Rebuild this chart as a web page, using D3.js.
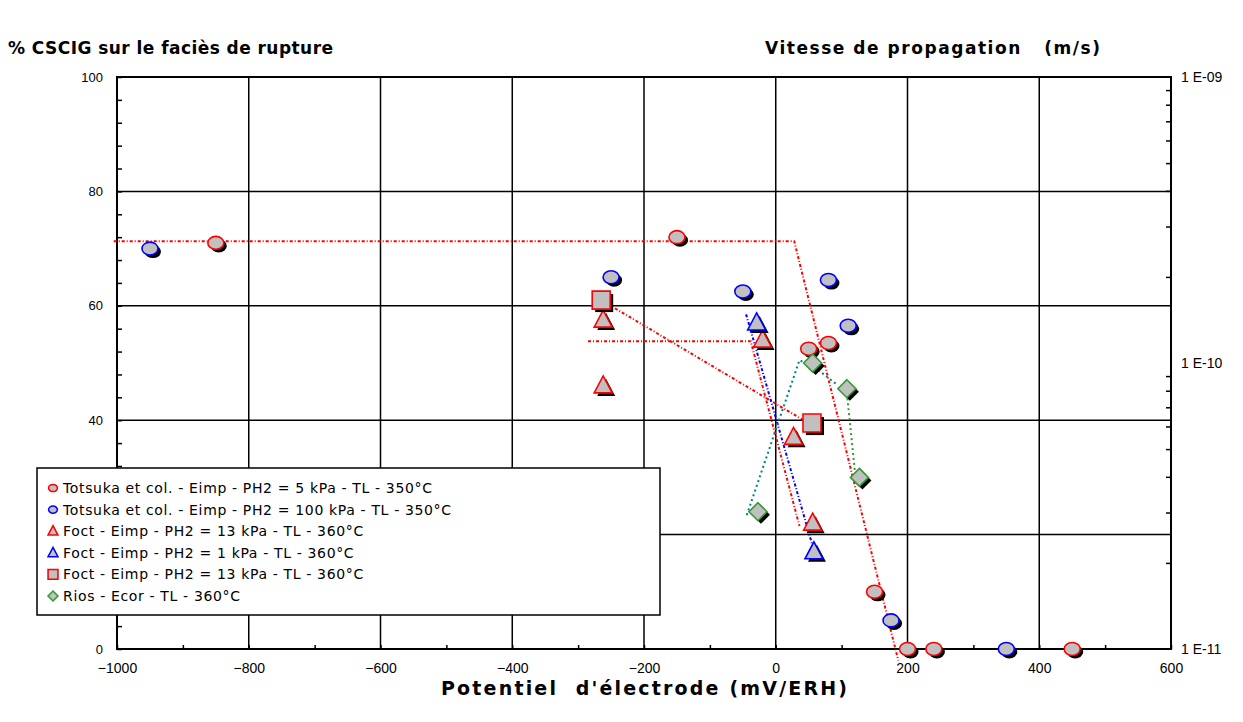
<!DOCTYPE html>
<html><head><meta charset="utf-8">
<script src="https://cdn.jsdelivr.net/npm/d3@7"></script>
<style>
html,body{margin:0;padding:0;background:#fff;}
svg{display:block;}
text{font-family:"Liberation Sans",Arial,sans-serif;fill:#000;}
.ttl{font-family:"DejaVu Sans",sans-serif;font-weight:bold;font-size:17px;white-space:pre;}
.leg{font-family:"DejaVu Sans",sans-serif;font-size:14px;letter-spacing:0.65px;}
</style></head>
<body>
<svg id="c" width="1243" height="722"></svg>
<script>
// ---- data ----
const xTicks = [-1000,-800,-600,-400,-200,0,200,400,600];
const yTicks = [0,20,40,60,80,100];
const rightTicks = [1e-11,1e-10,1e-9];
const rightTickLabels = ["1 E-11","1 E-10","1 E-09"];

const seriesNames = [
  "Totsuka et col. - Eimp - PH2 = 5 kPa - TL - 350°C",
  "Totsuka et col. - Eimp - PH2 = 100 kPa - TL - 350°C",
  "Foct - Eimp - PH2 = 13 kPa - TL - 360°C",
  "Foct - Eimp - PH2 = 1 kPa - TL - 360°C",
  "Foct - Eimp - PH2 = 13 kPa - TL - 360°C",
  "Rios - Ecor - TL - 360°C"
];
const seriesColors = ["#ff0000","#0000ff","#ff0000","#0000ff","#ff0000","#339933"];
const seriesShapes = ["circle","circle","triangle","triangle","square","diamond"];

const totsuka5X = [-850,-150,50,80,150,200,240,450];
const totsuka5Y = [71,72,52.5,53.5,10,0,0,0];
const totsuka100X = [-950,-250,-50,80,110,175,350];
const totsuka100Y = [70,65,62.5,64.5,56.5,5,0];
const foct13triX = [-262,-262,-20,27,56];
const foct13triY = [57.5,46,54,37,22];
const foct1X = [-29,58];
const foct1Y = [57,17];
const foct13sqX = [-265,55];
const foct13sqY = [61,39.5];
const riosX = [-27,56,108,127];
const riosY = [24,50,45.5,30];

// trend lines (dotted)
const trend1X = [-1005,28,186];   const trend1Y = [71.3,71.3,-2];
const trend2X = [-285,-38,36];    const trend2Y = [53.8,53.8,21.5];
const trend3X = [-265,45];        const trend3Y = [61,39.8];
const trend4X = [-45,56];         const trend4Y = [58.5,18];
const trend5X = [-44,36,62,92];   const trend5Y = [23.4,50.5,49,46.3];
const trend6X = [108,122];        const trend6Y = [44.7,29];

// ---- chart ----
const svg = d3.select("#c");
const L=117,R=1171,T=77,B=649;
const x = d3.scaleLinear().domain([-1000,600]).range([L,R]);
const y = d3.scaleLinear().domain([0,100]).range([B,T]);
const yR = d3.scaleLog().domain([1e-11,1e-9]).range([B,T]);

// grid
const g = svg.append("g");
g.selectAll(".vg").data(xTicks.filter(d=>d>-1000&&d<600)).enter().append("line")
  .attr("x1",d=>x(d)).attr("x2",d=>x(d)).attr("y1",T).attr("y2",B)
  .attr("stroke","#000").attr("stroke-width",1.5);
g.selectAll(".hg").data(yTicks.filter(d=>d>0&&d<100)).enter().append("line")
  .attr("x1",L).attr("x2",R).attr("y1",d=>y(d)).attr("y2",d=>y(d))
  .attr("stroke","#000").attr("stroke-width",1.5);

// axes
const xAxis = d3.axisBottom(x).tickValues(d3.range(-1000,601,100)).tickSize(-4).tickFormat("");
svg.append("g").attr("transform",`translate(0,${B})`).call(xAxis)
  .call(s=>{s.select(".domain").remove();s.selectAll("line").attr("stroke","#000").attr("stroke-width",1.5);});
const xLab = d3.axisBottom(x).tickValues(xTicks).tickSize(0).tickPadding(14).tickFormat(d3.format("d"));
svg.append("g").attr("transform",`translate(0,${B})`).call(xLab)
  .call(s=>{s.select(".domain").remove();s.selectAll("text").attr("font-size",14).attr("font-family","Liberation Sans, Arial");});

const yAxis = d3.axisLeft(y).tickValues(d3.range(0,101,4)).tickSize(-5).tickFormat("");
svg.append("g").attr("transform",`translate(${L},0)`).call(yAxis)
  .call(s=>{s.select(".domain").remove();s.selectAll("line").attr("stroke","#000").attr("stroke-width",1.5);});
// the "20" label is hidden behind the legend box in the reference
const yLab = d3.axisLeft(y).tickValues(yTicks.filter(d=>d!==20)).tickSize(0).tickPadding(14);
svg.append("g").attr("transform",`translate(${L},0)`).call(yLab)
  .call(s=>{s.select(".domain").remove();s.selectAll("text").attr("font-size",13).attr("font-family","Liberation Sans, Arial");});

const minorR = [];
[1e-11,1e-10].forEach(b=>{for(let k=2;k<=9;k++)minorR.push(b*k);});
const yRAxis = d3.axisRight(yR).tickValues(minorR).tickSize(-5).tickFormat("");
svg.append("g").attr("transform",`translate(${R},0)`).call(yRAxis)
  .call(s=>{s.select(".domain").remove();s.selectAll("line").attr("stroke","#000").attr("stroke-width",1.5);});
const yRLab = d3.axisRight(yR).tickValues(rightTicks).tickSize(0).tickPadding(10).tickFormat((d,i)=>rightTickLabels[i]);
svg.append("g").attr("transform",`translate(${R},0)`).call(yRLab)
  .call(s=>{s.select(".domain").remove();s.selectAll("text").attr("font-size",14).attr("font-family","Liberation Sans, Arial");});

// frame
svg.append("rect").attr("x",L).attr("y",T).attr("width",R-L).attr("height",B-T)
  .attr("fill","none").attr("stroke","#000").attr("stroke-width",2);

// trend lines
const line = d3.line().x(d=>x(d[0])).y(d=>y(d[1]));
const trends = [
  [trend1X,trend1Y,"#ff0000","3,2,1,2"],
  [trend2X,trend2Y,"#ff0000","3,2,1,2"],
  [trend3X,trend3Y,"#ff0000","3,2,1,2"],
  [trend4X,trend4Y,"#0000ff","3,2,1,2"],
  [trend5X,trend5Y,"#008080","2,3"],
  [trend6X,trend6Y,"#339933","2,3"]
];
trends.forEach(([xs,ys,c,da])=>{
  svg.append("path").datum(xs.map((v,i)=>[v,ys[i]])).attr("d",line)
    .attr("fill","none").attr("stroke",c).attr("stroke-width",2).attr("stroke-dasharray",da);
});

// markers
function shapePath(shape){
  if(shape==="circle") return "M-8,0 A8,6.5 0 1,0 8,0 A8,6.5 0 1,0 -8,0Z";
  if(shape==="triangle") return "M0,-10 L9,7 L-9,7Z";
  if(shape==="square") return "M-9,-9 L9,-9 L9,9 L-9,9Z";
  if(shape==="diamond") return "M0,-9 L9,0 L0,9 L-9,0Z";
}
const allSeries = [
  [totsuka5X,totsuka5Y],[totsuka100X,totsuka100Y],[foct13triX,foct13triY],
  [foct1X,foct1Y],[foct13sqX,foct13sqY],[riosX,riosY]
];
allSeries.forEach(([xs,ys],si)=>{
  const pts = xs.map((v,i)=>[v,ys[i]]);
  const gs = svg.append("g");
  gs.selectAll(".sh").data(pts).enter().append("path")
    .attr("d",shapePath(seriesShapes[si]))
    .attr("transform",d=>`translate(${x(d[0])+3},${y(d[1])+3})`)
    .attr("fill","#000");
  gs.selectAll(".mk").data(pts).enter().append("path")
    .attr("d",shapePath(seriesShapes[si]))
    .attr("transform",d=>`translate(${x(d[0])},${y(d[1])})`)
    .attr("fill","#c0c0c0").attr("stroke",seriesColors[si]).attr("stroke-width",1.6);
});

// legend
const lg = svg.append("g");
lg.append("rect").attr("x",37).attr("y",468).attr("width",623).attr("height",147)
  .attr("fill","#fff").attr("stroke","#000").attr("stroke-width",1.5);
seriesNames.forEach((nm,i)=>{
  const yy = 488 + i*21.6;
  lg.append("path").attr("d",shapePath(seriesShapes[i]))
    .attr("transform",`translate(53,${yy}) scale(0.55)`)
    .attr("fill","#c0c0c0").attr("stroke",seriesColors[i]).attr("stroke-width",2.8);
  lg.append("text").attr("class","leg").attr("x",63).attr("y",yy).attr("dy","0.35em").text(nm);
});

// titles
svg.append("text").attr("class","ttl").attr("x",8).attr("y",54)
  .attr("textLength",325).attr("lengthAdjust","spacing").text("% CSCIG sur le faciès de rupture");
svg.append("text").attr("class","ttl").attr("x",765).attr("y",54)
  .attr("textLength",335).attr("lengthAdjust","spacing").text("Vitesse de propagation   (m/s)");
svg.append("text").attr("class","ttl").attr("x",(L+R)/2).attr("y",695).attr("text-anchor","middle")
  .style("font-size","19px").attr("textLength",406).attr("lengthAdjust","spacing")
  .text("Potentiel  d'électrode (mV/ERH)");
</script>
</body></html>
